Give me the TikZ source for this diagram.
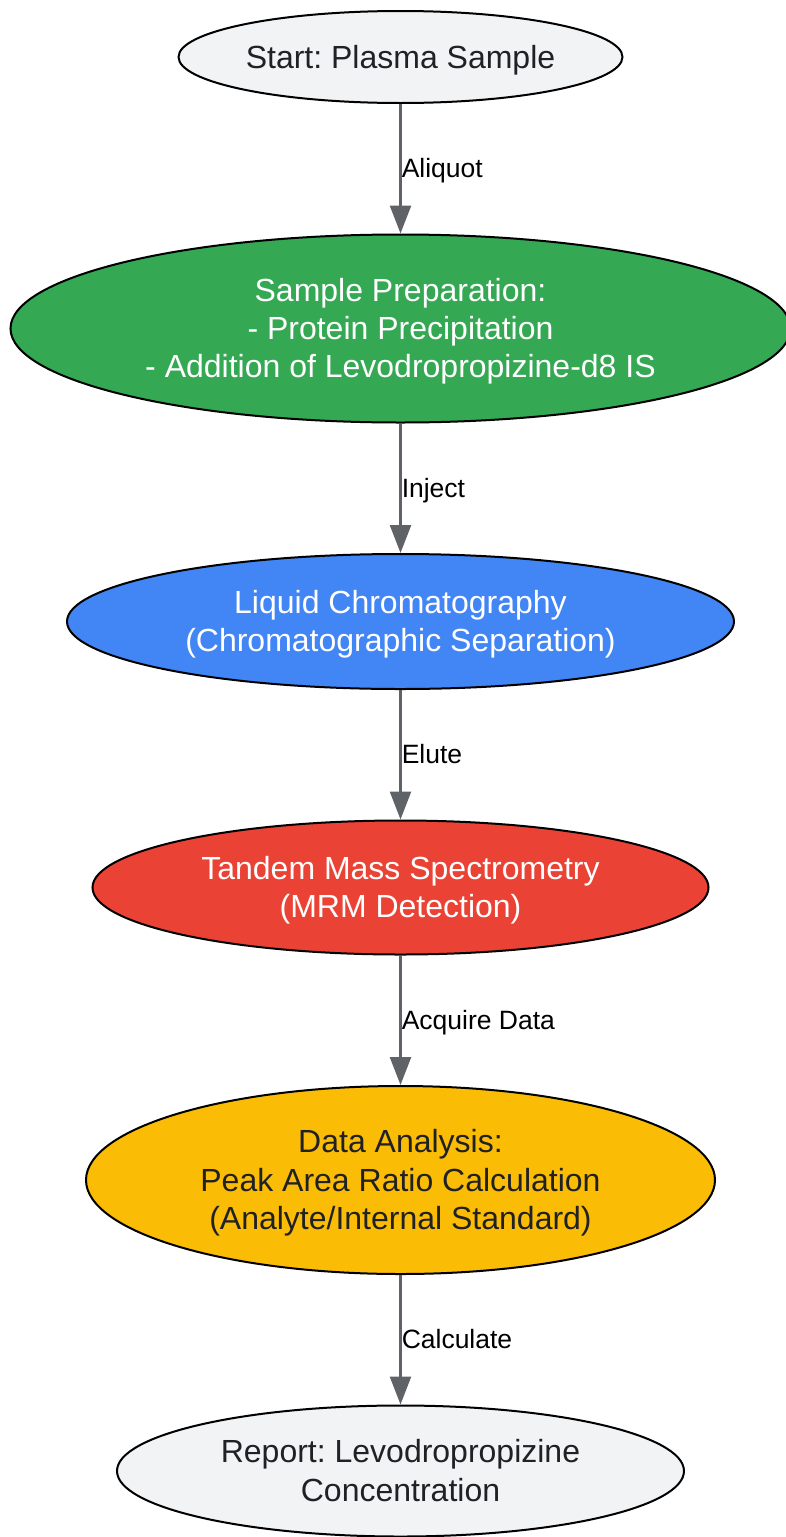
\documentclass[tikz,border=0pt]{standalone}
\usepackage{fontspec}
\setmainfont{Liberation Sans}
\usepackage{xcolor}
\usepackage{tikz}
\usetikzlibrary{shapes}
\usetikzlibrary{positioning}
\usetikzlibrary{arrows.meta}
\frenchspacing
\definecolor{palegray}{HTML}{F1F3F4}
\definecolor{darktext}{HTML}{202124}
\definecolor{prepgreen}{HTML}{34A853}
\definecolor{lcblue}{HTML}{4285F4}
\definecolor{msred}{HTML}{EA4335}
\definecolor{datayellow}{HTML}{FBBC05}
\definecolor{arrowgray}{HTML}{5F6368}
\newcommand{\boxstrut}{\rule[-0.212em]{0pt}{1.117em}}
\tikzstyle{flowarrow}= [line width=2.5pt, draw=arrowgray, -{Triangle[length=28pt,width=21pt]}]

\begin{document}
\begin{tikzpicture}[
		x=1pt, y=1pt,
		node distance=129.5pt,
    stage/.style={
    ellipse, draw=black, line width=2pt, inner sep=0pt, align=center,
    font=\fontsize{32}{38.4}\selectfont
    },
    edgelabel/.style={right, inner sep=0pt, text=black, font=\fontsize{26.5}{30}\selectfont,
    execute at begin node=\boxstrut}
	]

  \useasboundingbox (0,0) rectangle (785,-1537);
  \node[stage,fill=palegray,text=darktext,minimum width=444pt,minimum height=92pt] at (400.5,-57) (start) {\boxstrut Start: Plasma Sample};
  \node[stage,below=of start,fill=prepgreen,text=white,minimum width=780pt,minimum height=188pt] (prep) {\boxstrut Sample Preparation:\\- Protein Precipitation\\- Addition of Levodropropizine-d8 IS\boxstrut};
  \node[stage,below=of prep,fill=lcblue,text=white,minimum width=667pt,minimum height=135pt] (lc) {\boxstrut Liquid Chromatography\\(Chromatographic Separation)\boxstrut};
  \node[stage,below=of lc,fill=msred,text=white,minimum width=616pt,minimum height=134pt] (ms) {\boxstrut Tandem Mass Spectrometry\\(MRM Detection)\boxstrut};
  \node[stage,below=of ms,fill=datayellow,text=darktext,minimum width=629pt,minimum height=188pt] (data) {\boxstrut Data Analysis:\\Peak Area Ratio Calculation\\(Analyte/Internal Standard)\boxstrut};
  \node[stage,below=of data,fill=palegray,text=darktext,minimum width=567pt,minimum height=131pt] (report) {\boxstrut Report: Levodropropizine\\Concentration\boxstrut};
  \draw[flowarrow] (start) -- node[edgelabel] {Aliquot} (prep);
  \draw[flowarrow] (prep) -- node[edgelabel] {Inject} (lc);
  \draw[flowarrow] (lc) -- node[edgelabel] {Elute} (ms);
  \draw[flowarrow] (ms) -- node[edgelabel] {Acquire Data} (data);
  \draw[flowarrow] (data) -- node[edgelabel] {Calculate} (report);
\end{tikzpicture}
\end{document}
